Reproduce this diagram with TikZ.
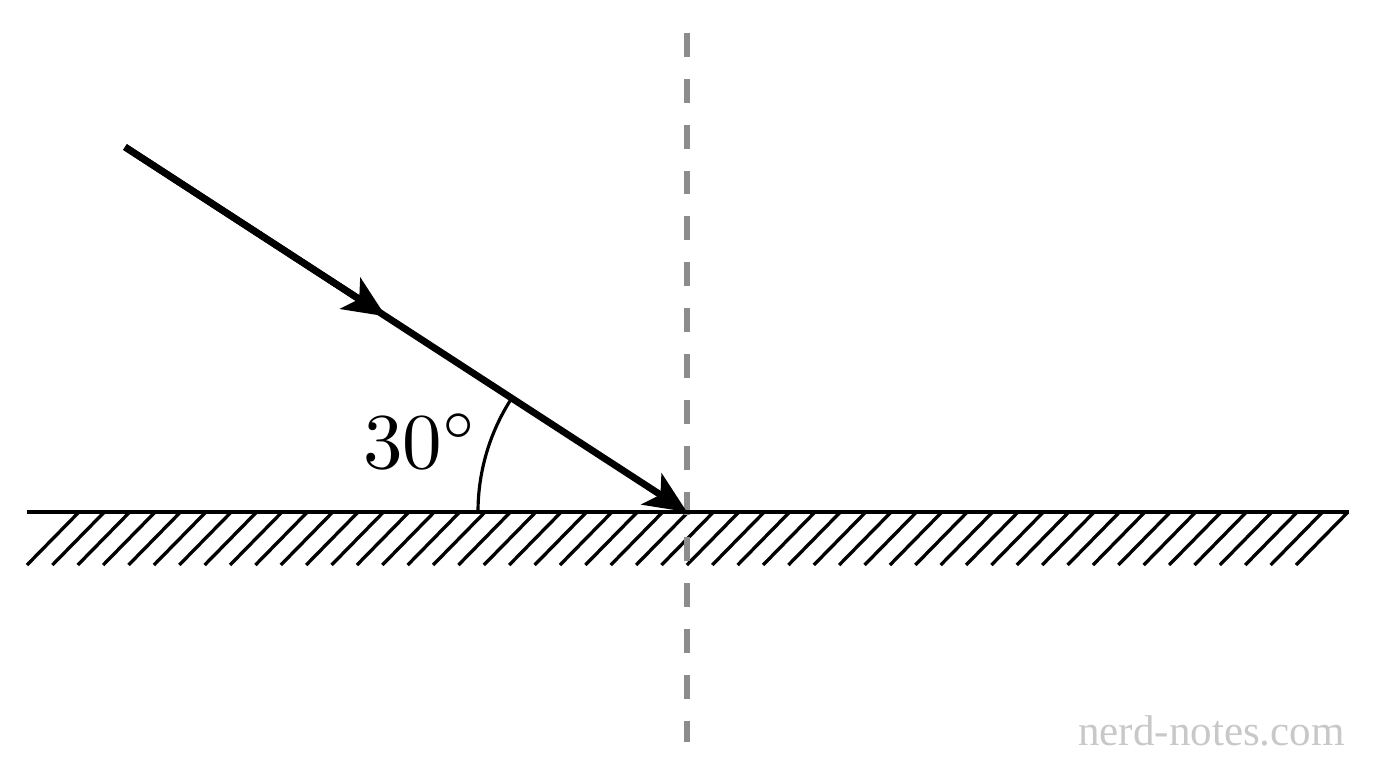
\documentclass[tikz,border=0pt]{standalone}
\usepackage{fontspec}
\newfontfamily\wmfont{Liberation Serif}
\usetikzlibrary{arrows.meta,calc}
\definecolor{dashgray}{HTML}{8C8C8C}
\definecolor{wmgray}{HTML}{C8C8C8}
\tikzset{
  ray/.style={line width=3.9pt},
  tipstyle/.style={-{Stealth[length=24pt,width=21pt,inset=6pt]}},
  surface/.style={line width=2.3pt},
  hatchline/.style={line width=1.9pt},
  normal/.style={dashgray,line width=3pt,dash pattern=on 13.6pt off 12.5pt},
  anglearc/.style={line width=1.8pt},
}
\begin{document}
\begin{tikzpicture}[x=0.02cm,y=-0.02cm]
\useasboundingbox (0,0) rectangle (1376,768);
\coordinate (L) at (27,512);
\coordinate (R) at (1349,512);
\coordinate (O) at (687,512);
\coordinate (S) at (125,147);
\coordinate (M) at ($(S)!0.464!(O)$);
\coordinate (NT) at (687,33);
\coordinate (NB) at (687,742);
% hatching
\foreach \i in {0,...,50} {
  \pgfmathsetmacro{\xx}{79+\i*25.38}
  \draw[hatchline] (\xx,512) -- ++(-52,53);
}
% normal
\draw[normal] (NT) -- (NB);
% surface
\draw[surface] (L) -- (R);
% angle arc
\draw[anglearc] (478,512) arc[start angle=180,end angle=213,radius=209];
% ray
\draw[ray,tipstyle] (S) -- (O);
\draw[ray,tipstyle] (S) -- (M);
\node[scale=4.5] (ang) at (421,441) {$30^\circ$};
\node[font=\wmfont\fontsize{24.5}{28}\selectfont,text=wmgray,anchor=east] (wm) at (1351,731) {nerd-notes.com};
\end{tikzpicture}
\end{document}
